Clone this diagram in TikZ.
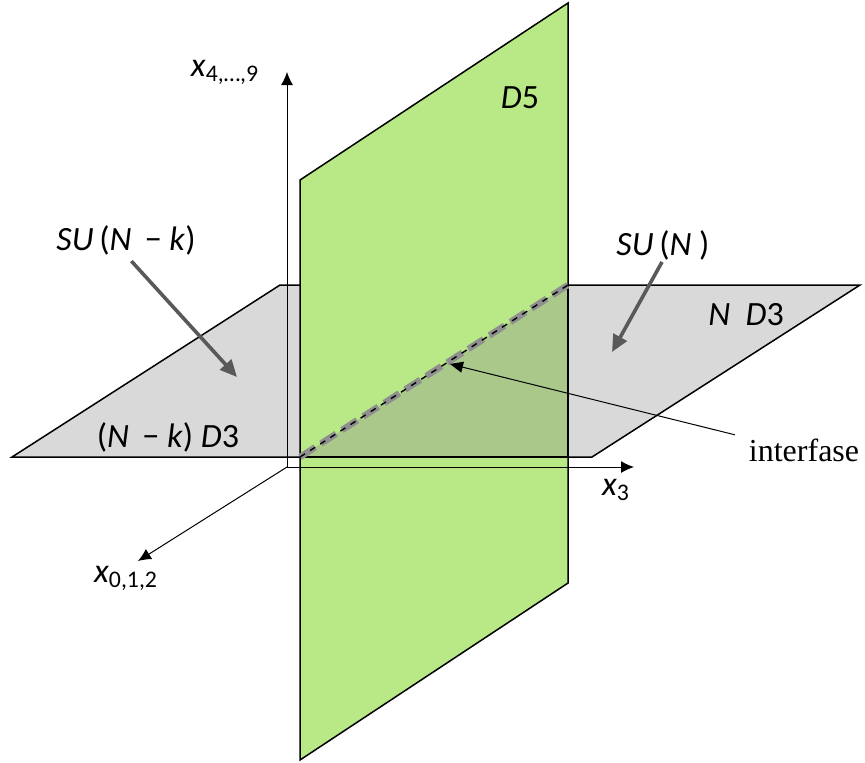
\documentclass[tikz,border=0pt]{standalone}
\usepackage{fontspec}
\setmainfont{Carlito}
\newfontfamily\timesfont{Liberation Serif}
\usetikzlibrary{arrows.meta}

\definecolor{verdeDcinco}{HTML}{B8E986}
\definecolor{verdeEscuro}{HTML}{A9C88A}
\definecolor{cinzaDtres}{HTML}{D9D9D9}
\definecolor{cinzaSeta}{HTML}{595959}
\definecolor{cinzaTraco}{HTML}{8F8F8F}

\begin{document}
\begin{tikzpicture}[x=0.5pt, y=-0.5pt]

  % ── Estilos ───────────────────────────────────────────────
  \tikzset{
    plano/.style   = {draw, line width=0.75pt},
    eixo/.style    = {-{Latex[length=6.5pt, width=6pt]}, line width=0.5pt},
    seta/.style    = {draw=cinzaSeta, line width=1.8pt, -{Triangle[length=8.5pt, width=7.5pt]}},
    indica/.style  = {-{Triangle[length=6.5pt, width=5.5pt]}, line width=0.5pt},
    rotulo/.style  = {font=\fontsize{17}{20}\selectfont, inner sep=0pt}
  }

  \useasboundingbox (0,0) rectangle (865,762);

  % =========================================================
  % 1. PLANOS D3 E D5
  % =========================================================

  % Plano das D3 (horizontal, em perspectiva)
  \filldraw[plano, fill=cinzaDtres] (12,457) -- (280,285) -- (860,285) -- (592,457) -- cycle;

  % Plano da D5 (vertical)
  \filldraw[plano, fill=verdeDcinco] (300,180) -- (568,3) -- (568,583) -- (300,760) -- cycle;

  % Parte do plano D3 que fica na frente da D5
  \coordinate (intA) at (300,457);
  \coordinate (intB) at (568,285);
  \fill[verdeEscuro] (intA) -- (intB) -- (568,457) -- cycle;
  \draw[line width=0.75pt] (intA) -- (568,457) -- (intB);

  % Linha de interseção (interface)
  \draw[cinzaTraco, line width=3.2pt, dash pattern=on 9pt off 3.5pt] (intA) -- (intB);
  \draw[line width=0.7pt, dash pattern=on 3pt off 3pt] (intA) -- (intB);

  % =========================================================
  % 2. EIXOS
  % =========================================================
  \coordinate (origem) at (287,467);
  \coordinate (topo)   at (287,72);
  \coordinate (direita) at (634,467);
  \coordinate (frente) at (138,561);

  \draw[eixo] (origem) -- (topo);
  \draw[eixo] (origem) -- (direita);
  \draw[eixo] (origem) -- (frente);

  \node[rotulo] (xQuatro) at (225,72)  {\textit{x}\textsubscript{4,…,9}};
  \node[rotulo] (xTres)   at (616,490) {\textit{x}\textsubscript{3}};
  \node[rotulo] (xZero)   at (126,578) {\textit{x}\textsubscript{0,1,2}};

  % =========================================================
  % 3. RÓTULOS E SETAS
  % =========================================================
  \node[rotulo] (dCinco)  at (520,98)  {\textit{D}5};
  \node[rotulo] (nDtres)  at (746,315) {\textit{N}\ \ \textit{D}3};
  \node[rotulo] (nkDtres) at (168,437) {(\textit{N}\ \,−\ \textit{k})\ \textit{D}3};

  \node[rotulo] (suNk) at (126,240) {\textit{SU}\,(\textit{N}\ \,−\ \textit{k})};
  \node[rotulo] (suN)  at (663,245) {\textit{SU}\,(\textit{N}\ )};
  \node[inner sep=0pt, font=\timesfont\fontsize{16}{19}\selectfont] (interfase) at (804,450) {interfase};

  \coordinate (alvoNk)  at (237,377);
  \coordinate (alvoN)   at (612,352);
  \coordinate (alvoInt) at (450,364);

  \draw[seta, shorten <=4pt] (suNk.south) -- (alvoNk);
  \draw[seta, shorten <=1pt] (suN.south) -- (alvoN);
  \draw[indica, shorten <=7pt] (interfase.north west) -- (alvoInt);

\end{tikzpicture}
\end{document}
